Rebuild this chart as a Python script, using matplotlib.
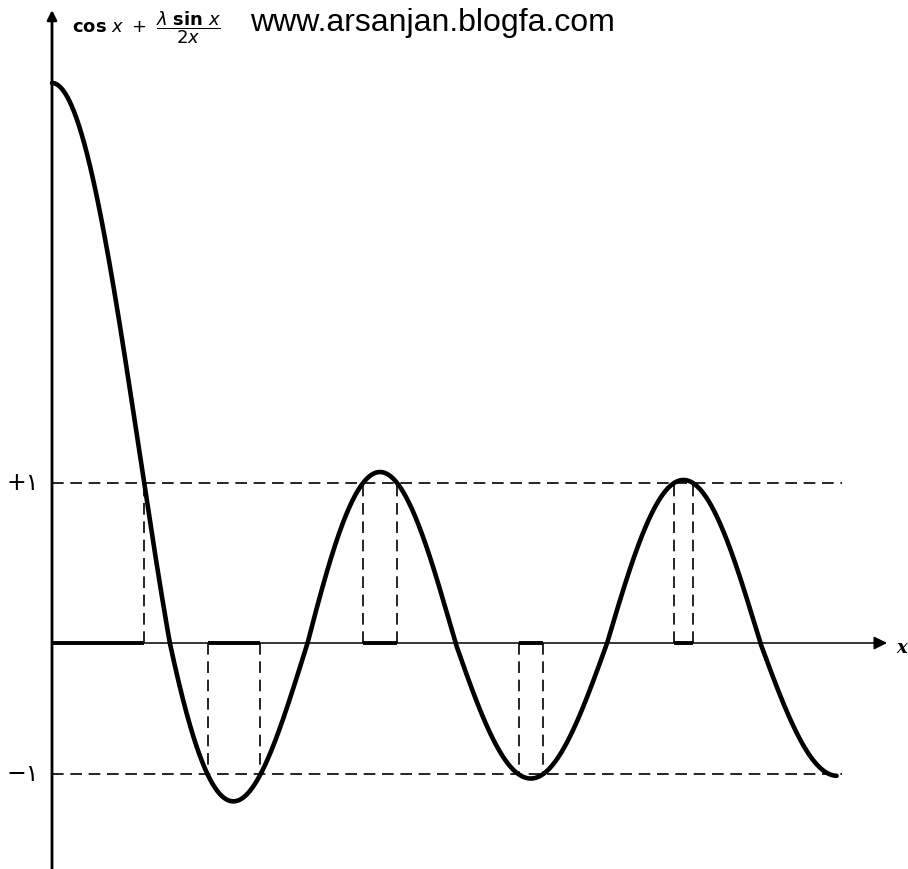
import numpy as np
import matplotlib
matplotlib.use("Agg")
import matplotlib.pyplot as plt

# Kronig-Penney style plot: f(x) = cos x + lambda * sin x / (2x)
LAMBDA = 5.0
X_START = 0.0
X_END = 15.85          # curve stops just past the 5*pi minimum
X_LINE_END = 15.95     # where the dashed +1 / -1 guide lines stop
X_ARROW = 16.87        # tip of the x axis arrow
LEVELS = [1.0, -1.0]
LEVEL_LABELS = ["+\u06f1", "\u2212\u06f1"]
Y_LABEL = r"$\mathbf{cos}\ x\ +\ \dfrac{\lambda\ \mathbf{sin}\ x}{2x}$"
WEBSITE = "www.arsanjan.blogfa.com"

# pixel geometry of the scanned drawing
W, H = 908, 869
X0_PX, Y0_PX = 52, 643      # origin in pixels
PX_X = 49.5                  # pixels per unit of x
PX_Y = 160.0                 # pixels per unit of y (upper half)
NEG = 0.82                   # lower half is drawn squashed in the original


def fwd(y):
    y = np.asarray(y, dtype=float)
    return np.where(y >= 0, y, y * NEG)


def inv(y):
    y = np.asarray(y, dtype=float)
    return np.where(y >= 0, y, y / NEG)


def f(x):
    return np.cos(x) + LAMBDA / 2 * np.sinc(x / np.pi)


x = np.linspace(X_START, X_END, 4000)
y = f(x)

# forbidden gaps: where |f| > 1
out = np.abs(y) > 1
edges = np.flatnonzero(np.diff(out.astype(int)))
gaps = []
start = 0 if out[0] else None
for e in edges:
    if out[e + 1]:
        start = e + 1
    elif start is not None:
        gaps.append((x[start], x[e], np.sign(y[start:e + 1].mean())))
        start = None

fig = plt.figure(figsize=(W / 100, H / 100), dpi=100)
ax = fig.add_axes([0, 0, 1, 1])
ax.set_yscale("function", functions=(fwd, inv))
ax.set_xlim(-X0_PX / PX_X, (W - X0_PX) / PX_X)
ax.set_ylim(float(inv(-(H - Y0_PX) / PX_Y)), Y0_PX / PX_Y)
ax.axis("off")

dash = (0, (7, 4))

# +1 / -1 guide lines
for lv in LEVELS:
    ax.plot([0, X_LINE_END], [lv, lv], color="black", lw=1.2, ls=dash)

# gap rectangles and thick axis segments
for a, b, s in gaps:
    ax.plot([a, b], [0, 0], color="black", lw=2.8, solid_capstyle="butt")
    for xe in (a, b):
        if xe > 0:
            ax.plot([xe, xe], [0, s], color="black", lw=1.2, ls=dash)

# axes with arrows
ax.annotate("", xy=(X_ARROW, 0), xytext=(0, 0), annotation_clip=False,
            arrowprops=dict(arrowstyle="-|>", lw=1.1, color="black",
                            mutation_scale=20, shrinkA=0, shrinkB=0))
ax.annotate("", xy=(0, (Y0_PX - 10) / PX_Y), xytext=(0, float(inv(-(H - Y0_PX) / PX_Y))),
            annotation_clip=False,
            arrowprops=dict(arrowstyle="-|>", lw=2.0, color="black",
                            mutation_scale=14, shrinkA=0, shrinkB=0))

# the curve
ax.plot(x, y, color="black", lw=3.3, solid_capstyle="round")

# labels
for lv, lab in zip(LEVELS, LEVEL_LABELS):
    ax.text(-13 / PX_X, lv, lab, ha="right", va="center", fontsize=17,
            family=["DejaVu Sans"])

fig.text(72 / W, 1 - 28 / H, Y_LABEL, ha="left", va="center", fontsize=13)
fig.text(250 / W, 1 - 31 / H, WEBSITE, ha="left", va="baseline",
         fontsize=23, family="Liberation Sans")
fig.text(896 / W, 1 - 648 / H, "x", ha="left", va="center", fontsize=13,
         style="italic", weight="bold", family="DejaVu Serif")

fig.savefig("out.png", dpi=100)
